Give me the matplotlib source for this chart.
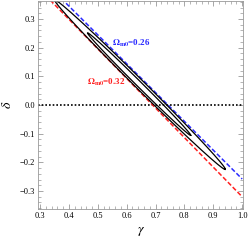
import numpy as np
import matplotlib
matplotlib.use('Agg')
import matplotlib.pyplot as plt
from matplotlib.ticker import MultipleLocator

plt.rcParams['font.family'] = ['Liberation Serif', 'DejaVu Serif']
plt.rcParams['mathtext.fontset'] = 'stix'

# dashed theory lines (gamma, delta end points)
blue_gamma = [0.39, 1.0]
blue_delta = [0.355, -0.258]
red_gamma = [0.335, 1.0]
red_delta = [0.366, -0.32]

# confidence contours: centre, semi-major, semi-minor (data units)
contour_center = [(0.646, 0.071), (0.643, 0.073)]
contour_a = [0.418, 0.253]
contour_b = [0.016, 0.009]

labels = [r'$\mathbf{\Omega_{m0}}$=0.26', r'$\mathbf{\Omega_{m0}}$=0.32']
label_pos = [(0.549, 0.216), (0.463, 0.08)]
label_col = ['#2a2aff', '#ff2020']

fig = plt.figure(figsize=(2.49, 2.42), dpi=100)
ax = fig.add_axes([0.153, 0.136, 0.823, 0.86])

ax.axhline(0, color='black', ls=(0, (1, 1.2)), lw=1.2)
ax.plot(blue_gamma, blue_delta, color='#2a2aff', ls=(0, (3, 1.5)), lw=1.1)
ax.plot(red_gamma, red_delta, color='#ff2020', ls=(0, (3, 1.5)), lw=1.1)

t = np.linspace(0, 2 * np.pi, 400)
u = np.array([1, -1]) / np.sqrt(2)
v = np.array([1, 1]) / np.sqrt(2)
for (cx, cy), a, b in zip(contour_center, contour_a, contour_b):
    xs = cx + a * np.cos(t) * u[0] + b * np.sin(t) * v[0]
    ys = cy + a * np.cos(t) * u[1] + b * np.sin(t) * v[1]
    ax.plot(xs, ys, color='black', lw=0.9)

for s, (x, y), c in zip(labels, label_pos, label_col):
    ax.text(x, y, s, color=c, fontsize=6.5, fontweight='bold', va='center', ha='left')

ax.set_xlim(0.293, 1.003)
ax.set_ylim(-0.363, 0.363)
ax.xaxis.set_major_locator(MultipleLocator(0.1))
ax.xaxis.set_minor_locator(MultipleLocator(0.02))
ax.yaxis.set_major_locator(MultipleLocator(0.1))
ax.yaxis.set_minor_locator(MultipleLocator(0.02))
ax.xaxis.set_major_formatter(plt.FuncFormatter(lambda v, p: f'{v:.1f}'))
ax.yaxis.set_major_formatter(plt.FuncFormatter(lambda v, p: f'{v:.1f}'.replace('-', '\u2212')))
ax.tick_params(which='both', direction='in', top=True, right=True, color='#999999',
               labelsize=6, pad=2)
ax.tick_params(which='major', length=3.5, width=0.6)
ax.tick_params(which='minor', length=2, width=0.5)
for sp in ax.spines.values():
    sp.set_color('#999999')
    sp.set_linewidth(0.6)

ax.set_xlabel(r'$\gamma$', fontsize=10, labelpad=4)
ax.set_ylabel(r'$\delta$', fontsize=10, labelpad=4)

fig.savefig('out.png', dpi=100)
